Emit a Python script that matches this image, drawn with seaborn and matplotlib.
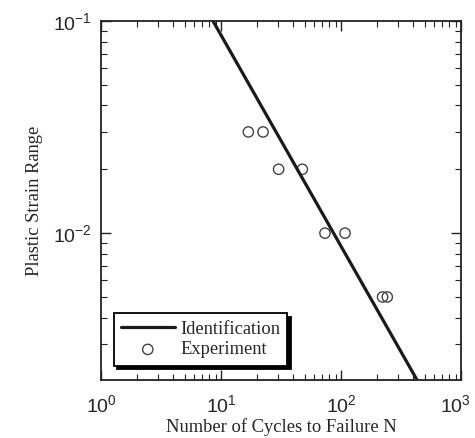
import matplotlib
matplotlib.use("Agg")
import matplotlib.pyplot as plt
import matplotlib.ticker as mticker
import matplotlib.transforms as mtrans
import seaborn as sns
import pandas as pd

# Data
N_exp = [16.9, 22.4, 30.2, 47.6, 73.5, 108.0, 222.0, 243.0]
strain_exp = [0.030, 0.030, 0.020, 0.020, 0.010, 0.010, 0.005, 0.005]
N_fit = [8.58, 430.0]
strain_fit = [0.100, 0.00203]
x_ticks = [1, 10, 100, 1000]
y_ticks = [0.01, 0.1]

sns.set_style("ticks")
serif = ["Liberation Serif", "DejaVu Serif"]
tickfont = ["Liberation Sans", "DejaVu Sans"]
plt.rcParams["font.family"] = serif
plt.rcParams["mathtext.fontset"] = "custom"
plt.rcParams["mathtext.rm"] = tickfont[0]
plt.rcParams["mathtext.it"] = tickfont[0]
plt.rcParams["mathtext.default"] = "regular"

df_exp = pd.DataFrame({"N": N_exp, "strain": strain_exp})
df_fit = pd.DataFrame({"N": N_fit, "strain": strain_fit})

fig = plt.figure(figsize=(4.75, 4.38), dpi=100)
ax = fig.add_axes([0.2126, 0.1324, 0.758, 0.8196])

sns.lineplot(data=df_fit, x="N", y="strain", ax=ax, color="#1a1a1a",
             linewidth=2.3, label="Identification")
sns.scatterplot(data=df_exp, x="N", y="strain", ax=ax, marker="o", s=55,
                facecolor="none", edgecolor="#444444", linewidth=1.0,
                label="Experiment")

ax.set_xscale("log")
ax.set_yscale("log")
ax.set_xlim(1, 1000)
ax.set_ylim(0.00203, 0.1)
ax.set_xticks(x_ticks)
ax.set_yticks(y_ticks)
ax.xaxis.set_major_formatter(mticker.LogFormatterSciNotation())
ax.yaxis.set_major_formatter(mticker.LogFormatterSciNotation())
ax.xaxis.set_minor_locator(mticker.LogLocator(base=10, subs=range(2, 10)))
ax.yaxis.set_minor_locator(mticker.LogLocator(base=10, subs=range(2, 10)))
ax.xaxis.set_minor_formatter(mticker.NullFormatter())
ax.yaxis.set_minor_formatter(mticker.NullFormatter())

ax.tick_params(which="both", direction="in", top=True, right=True,
               color="#222222")
ax.tick_params(which="major", length=7, width=1.0, labelsize=14)
ax.tick_params(which="minor", length=4, width=0.8)
ax.tick_params(axis="x", which="major", pad=10)
ax.tick_params(axis="y", which="major", pad=7)
for lab in ax.get_xticklabels() + ax.get_yticklabels():
    lab.set_fontfamily(tickfont)

# keep the last x tick label inside the figure
fig.canvas.draw()
last = ax.get_xticklabels()[-1]
last.set_transform(last.get_transform() +
                   mtrans.ScaledTranslation(-4 / 72, 0, fig.dpi_scale_trans))

for sp in ax.spines.values():
    sp.set_linewidth(1.3)
    sp.set_color("#222222")

ax.set_xlabel("Number of Cycles to Failure N", fontsize=13.3, labelpad=2,
              family=serif)
ax.set_ylabel("Plastic Strain Range", fontsize=13.3, labelpad=7,
              family=serif)

leg = ax.legend(loc="lower left", bbox_to_anchor=(0.035, 0.04),
                fontsize=13.3, frameon=True, fancybox=False,
                shadow={"ox": 2.5, "oy": -2.5, "color": "black", "alpha": 1},
                handlelength=2.9, handletextpad=0.3, borderpad=0.4,
                labelspacing=0.2, borderaxespad=0)
leg.get_frame().set_edgecolor("black")
leg.get_frame().set_linewidth(1.3)
leg.get_frame().set_alpha(1)

fig.savefig("out.png", dpi=100)
